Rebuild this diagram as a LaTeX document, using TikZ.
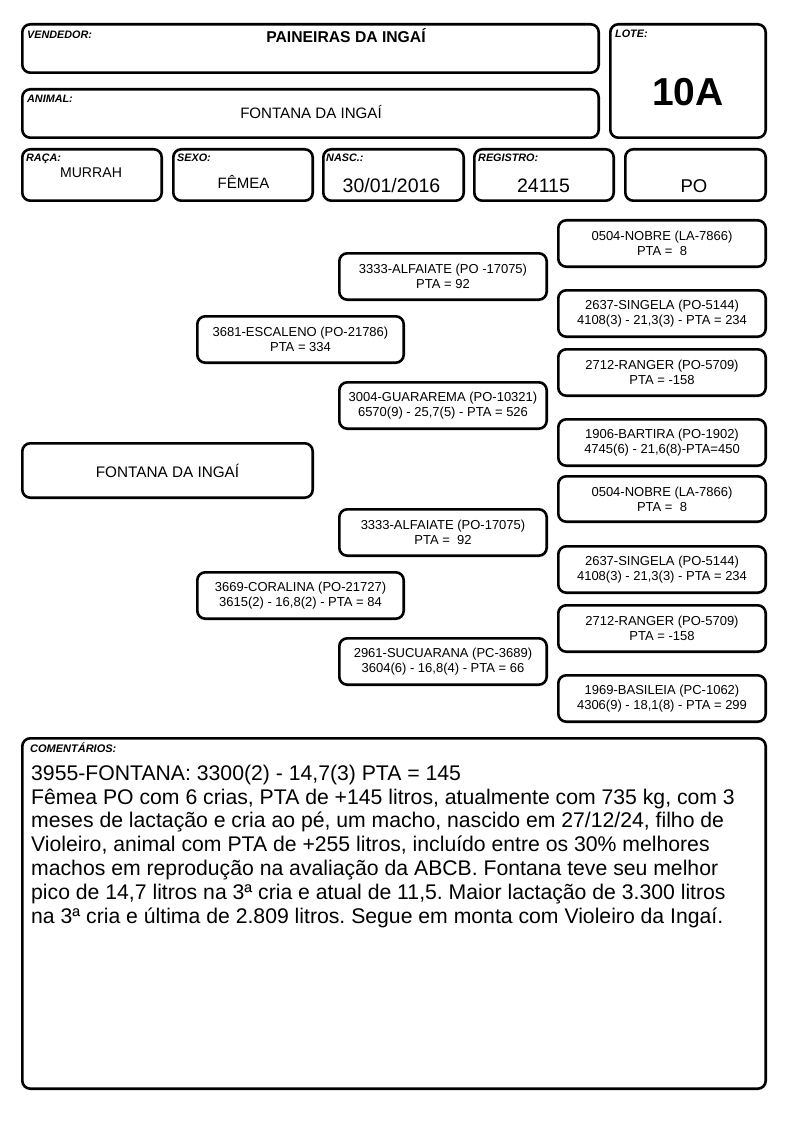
\documentclass[tikz,border=0pt]{standalone}
\usepackage{fontspec}
\setmainfont{Liberation Sans}
\frenchspacing
\tikzset{
  frame/.style={draw, line width=2.6pt, rounded corners=8pt, inner sep=0pt, align=center},
  pedtext/.style={font=\fontsize{13}{15}\selectfont},
  lbl/.style={anchor=base west, inner sep=0pt, font=\fontsize{10.8}{12}\selectfont\bfseries\itshape},
  val/.style={anchor=base, inner sep=0pt},
  com/.style={anchor=base west, inner sep=0pt, font=\fontsize{21.2}{24}\selectfont},
}
\newcommand{\bx}[6]{%
  \node[frame, minimum width={#4-#2-2.6}, minimum height={#5-#3-2.6}] (#1) at ({(#2+#4)/2},{(#3+#5)/2}) {#6};}
\begin{document}
\begin{tikzpicture}[x=1pt,y=-1pt]
\useasboundingbox (0,0) rectangle (794,1123);
% header boxes
\bx{vend}{21}{23}{600}{74}{}
\bx{anim}{21}{88}{600}{139}{}
\bx{lote}{609}{23}{767}{139}{}
\bx{raca}{21}{148}{163}{202}{}
\bx{sexo}{172}{148}{314}{202}{}
\bx{nasc}{322}{148}{465}{202}{}
\bx{regi}{473}{148}{615}{202}{}
\bx{po}{624}{148}{767}{202}{}
% labels
\node[lbl] (lvend) at (27,39) {VENDEDOR:};
\node[lbl] (lanim) at (27,103) {ANIMAL:};
\node[lbl] (llote) at (615,38) {LOTE:};
\node[lbl] (lraca) at (26,162) {RAÇA:};
\node[lbl] (lsexo) at (177,162) {SEXO:};
\node[lbl] (lnasc) at (326,162) {NASC.:};
\node[lbl] (lregi) at (478,162) {REGISTRO:};
% values
\node[val, font=\fontsize{15.7}{18}\selectfont\bfseries] (tvend) at (346,43) {PAINEIRAS DA INGAÍ};
\node[val, font=\fontsize{15.1}{18}\selectfont] (tanim) at (311,119) {FONTANA DA INGAÍ};
\node[val, font=\fontsize{39}{44}\selectfont\bfseries] (tlote) at (688,106) {10A};
\node[val, font=\fontsize{14.1}{18}\selectfont] (traca) at (91,178) {MURRAH};
\node[val, font=\fontsize{15}{18}\selectfont] (tsexo) at (243.5,189) {FÊMEA};
\node[val, font=\fontsize{19.5}{22}\selectfont] (tnasc) at (391.5,193) {30/01/2016};
\node[val, font=\fontsize{19.5}{22}\selectfont] (tregi) at (543.5,193) {24115};
\node[val, font=\fontsize{18.5}{22}\selectfont] (tpo) at (694,193) {PO};
% pedigree
\bx{fontana}{21}{442}{314}{499}{\fontsize{15.3}{18}\selectfont FONTANA DA INGAÍ}
\begin{scope}[every node/.append style={pedtext}]
\bx{escaleno}{196}{315}{405}{364}{3681-ESCALENO (PO-21786)\\PTA = 334}
\bx{coralina}{196}{571}{405}{620}{3669-CORALINA (PO-21727)\\3615(2) - 16,8(2) - PTA = 84}
\bx{alfaiateA}{338}{252}{548}{301}{3333-ALFAIATE (PO -17075)\\PTA = 92}
\bx{guararema}{338}{381}{548}{430}{3004-GUARAREMA (PO-10321)\\6570(9) - 25,7(5) - PTA = 526}
\bx{alfaiateB}{338}{508}{548}{557}{3333-ALFAIATE (PO-17075)\\PTA = \ 92}
\bx{sucuarana}{338}{637}{548}{686}{2961-SUCUARANA (PC-3689)\\3604(6) - 16,8(4) - PTA = 66}
\bx{nobreA}{557}{219}{767}{268}{0504-NOBRE (LA-7866)\\PTA = \ 8}
\bx{singelaA}{557}{289}{767}{338}{2637-SINGELA (PO-5144)\\4108(3) - 21,3(3) - PTA = 234}
\bx{rangerA}{557}{348}{767}{397}{2712-RANGER (PO-5709)\\PTA = -158}
\bx{bartira}{557}{418}{767}{467}{1906-BARTIRA (PO-1902)\\4745(6) - 21,6(8)-PTA=450}
\bx{nobreB}{557}{475}{767}{523}{0504-NOBRE (LA-7866)\\PTA = \ 8}
\bx{singelaB}{557}{545}{767}{594}{2637-SINGELA (PO-5144)\\4108(3) - 21,3(3) - PTA = 234}
\bx{rangerB}{557}{604}{767}{653}{2712-RANGER (PO-5709)\\PTA = -158}
\bx{basileia}{557}{674}{767}{723}{1969-BASILEIA (PC-1062)\\4306(9) - 18,1(8) - PTA = 299}
\end{scope}
% comments
\bx{coment}{21}{737}{767}{1090}{}
\node[lbl, font=\fontsize{11}{12}\selectfont\bfseries\itshape] (lcom) at (30,752) {COMENTÁRIOS:};
\node[com] (c1) at (31,780) {3955-FONTANA: 3300(2) - 14,7(3) PTA = 145};
\node[com] (c2) at (31,804) {Fêmea PO com 6 crias, PTA de +145 litros, atualmente com 735 kg, com 3};
\node[com] (c3) at (31,827.5) {meses de lactação e cria ao pé, um macho, nascido em 27/12/24, filho de};
\node[com] (c4) at (31,851.5) {Violeiro, animal com PTA de +255 litros, incluído entre os 30\% melhores};
\node[com] (c5) at (31,875) {machos em reprodução na avaliação da ABCB. Fontana teve seu melhor};
\node[com] (c6) at (31,899) {pico de 14,7 litros na 3ª cria e atual de 11,5. Maior lactação de 3.300 litros};
\node[com] (c7) at (31,923) {na 3ª cria e última de 2.809 litros. Segue em monta com Violeiro da Ingaí.};
\end{tikzpicture}
\end{document}
